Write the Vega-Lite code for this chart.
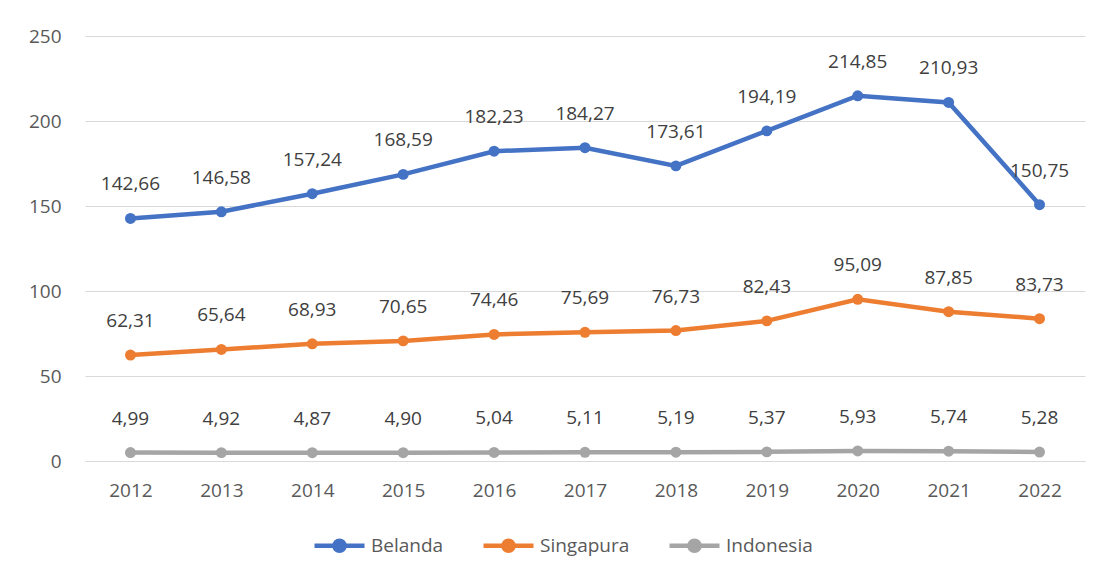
{
  "$schema": "https://vega.github.io/schema/vega-lite/v6.json",
  "width": 1000,
  "height": 425,
  "autosize": {"type": "none"},
  "padding": {"left": 85, "top": 36, "right": 18, "bottom": 116},
  "background": "white",
  "config": {
    "view": {"stroke": null},
    "font": "Open Sans",
    "locale": {"number": {"decimal": ",", "thousands": ".", "grouping": [3], "currency": ["", ""]}},
    "axis": {"labelFont": "Open Sans", "labelFontSize": 19, "labelColor": "#595959", "ticks": false, "title": null},
    "legend": {"labelFont": "Open Sans", "labelFontSize": 19, "labelColor": "#595959"}
  },
  "data": {
    "values": [
      {"year": "2012", "country": "Belanda", "value": 142.66},
      {"year": "2013", "country": "Belanda", "value": 146.58},
      {"year": "2014", "country": "Belanda", "value": 157.24},
      {"year": "2015", "country": "Belanda", "value": 168.59},
      {"year": "2016", "country": "Belanda", "value": 182.23},
      {"year": "2017", "country": "Belanda", "value": 184.27},
      {"year": "2018", "country": "Belanda", "value": 173.61},
      {"year": "2019", "country": "Belanda", "value": 194.19},
      {"year": "2020", "country": "Belanda", "value": 214.85},
      {"year": "2021", "country": "Belanda", "value": 210.93},
      {"year": "2022", "country": "Belanda", "value": 150.75},
      {"year": "2012", "country": "Singapura", "value": 62.31},
      {"year": "2013", "country": "Singapura", "value": 65.64},
      {"year": "2014", "country": "Singapura", "value": 68.93},
      {"year": "2015", "country": "Singapura", "value": 70.65},
      {"year": "2016", "country": "Singapura", "value": 74.46},
      {"year": "2017", "country": "Singapura", "value": 75.69},
      {"year": "2018", "country": "Singapura", "value": 76.73},
      {"year": "2019", "country": "Singapura", "value": 82.43},
      {"year": "2020", "country": "Singapura", "value": 95.09},
      {"year": "2021", "country": "Singapura", "value": 87.85},
      {"year": "2022", "country": "Singapura", "value": 83.73},
      {"year": "2012", "country": "Indonesia", "value": 4.99},
      {"year": "2013", "country": "Indonesia", "value": 4.92},
      {"year": "2014", "country": "Indonesia", "value": 4.87},
      {"year": "2015", "country": "Indonesia", "value": 4.90},
      {"year": "2016", "country": "Indonesia", "value": 5.04},
      {"year": "2017", "country": "Indonesia", "value": 5.11},
      {"year": "2018", "country": "Indonesia", "value": 5.19},
      {"year": "2019", "country": "Indonesia", "value": 5.37},
      {"year": "2020", "country": "Indonesia", "value": 5.93},
      {"year": "2021", "country": "Indonesia", "value": 5.74},
      {"year": "2022", "country": "Indonesia", "value": 5.28}
    ]
  },
  "encoding": {
    "x": {
      "field": "year", "type": "ordinal",
      "scale": {"type": "point", "padding": 0.5},
      "axis": {"labelAngle": 0, "labelPadding": 20, "domainColor": "#d9d9d9", "domainWidth": 1, "grid": false}
    },
    "y": {
      "field": "value", "type": "quantitative",
      "scale": {"domain": [0, 250], "nice": false},
      "axis": {"values": [0, 50, 100, 150, 200, 250], "domain": false, "grid": true, "gridColor": "#d9d9d9", "gridWidth": 1, "labelPadding": 24}
    }
  },
  "layer": [
    {
      "mark": {"type": "line", "strokeWidth": 4.5, "point": {"size": 120, "filled": true, "opacity": 1}},
      "encoding": {
        "color": {
          "field": "country", "type": "nominal",
          "scale": {"domain": ["Belanda", "Singapura", "Indonesia"], "range": ["#4472C4", "#ED7D31", "#A5A5A5"]},
          "legend": {
            "title": null, "orient": "none", "direction": "horizontal", "legendX": 227, "legendY": 482,
            "symbolType": "M-1,0L1,0 M-0.2,0A0.2,0.2 0 1,1 0.2,0A0.2,0.2 0 1,1 -0.2,0Z",
            "symbolSize": 2500, "symbolStrokeWidth": 4.5, "columnPadding": 30, "labelOffset": 4
          }
        }
      }
    },
    {
      "mark": {"type": "text", "dy": -34, "fontSize": 19, "font": "Open Sans", "color": "#404040", "baseline": "middle"},
      "encoding": {
        "text": {"field": "value", "type": "quantitative", "format": ".2f"}
      }
    }
  ]
}
